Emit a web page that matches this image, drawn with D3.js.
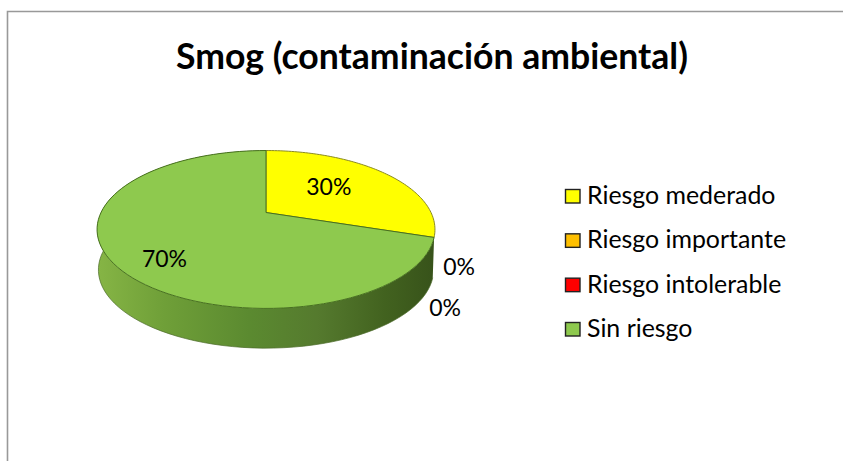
<!DOCTYPE html>
<html><head><meta charset="utf-8">
<style>html,body{margin:0;padding:0;background:#fff}svg{display:block}text{font-family:Lato,"Open Sans",sans-serif;fill:#000}</style>
<script src="https://cdnjs.cloudflare.com/ajax/libs/d3/7.8.5/d3.min.js"></script>
</head><body><svg id="c" width="843" height="461"></svg>
<script>
const title = "Smog (contaminación ambiental)";
const categories = ["Riesgo mederado","Riesgo importante","Riesgo intolerable","Sin riesgo"];
const values = [30,0,0,70];
const colors = ["#ffff00","#ffc000","#ff0000","#8ec94e"];

const svg = d3.select("#c");
const k=-0.215, A=165, B=75.3, apex=[266,212.5], depth=40.5, shrink=0.992;
function proj(th,r=1,off=0,s=1){
  const u=Math.sin(th)*r, v=-Math.cos(th)*r, d=1+k*v;
  return [apex[0]+A*s*u/d, apex[1]+off+B*s*v/d];
}
const pie = d3.pie().sort(null).value(d=>d);
const arcs = pie(values);
const line = d3.line();
const sample = (a,b,n=90)=>d3.range(n+1).map(i=>a+(b-a)*i/n);

// frame
svg.append("path").attr("d",line([[7.5,461],[7.5,11.5],[843,11.5]])).attr("fill","none").attr("stroke","#999").attr("stroke-width",1.6);

// side gradient
const defs=svg.append("defs");
const g=defs.append("linearGradient").attr("id","side").attr("gradientUnits","userSpaceOnUse").attr("x1",97).attr("x2",436).attr("y1",0).attr("y2",0);
[[0,"#86b545"],[0.2,"#6f9f38"],[0.45,"#5b8a30"],[0.65,"#557a2e"],[0.85,"#42621f"],[1,"#37521a"]].forEach(s=>g.append("stop").attr("offset",s[0]).attr("stop-color",s[1]));

const front = arcs.filter(a=>a.endAngle>a.startAngle && a.endAngle>Math.PI);
front.forEach(a=>{
  const ts=sample(a.startAngle,a.endAngle);
  const top=ts.map(t=>proj(t));
  const bot=ts.map(t=>proj(t,1,depth,shrink)).reverse();
  svg.append("path").attr("d",line(top.concat(bot))+"Z").attr("fill","url(#side)");
  svg.append("path").attr("d",line(bot)).attr("fill","none").attr("stroke","#4c6b2a").attr("stroke-width",1).attr("opacity",.7);
});

// top faces
arcs.filter(a=>a.endAngle>a.startAngle).forEach(a=>{
  const i=a.index;
  const pts=[apex].concat(sample(a.startAngle,a.endAngle).map(t=>proj(t)));
  svg.append("path").attr("d",line(pts)+"Z").attr("fill",colors[i]).attr("stroke",i==0?"#8a8a20":"#47701f").attr("stroke-width",1).attr("stroke-linejoin","round");
});

// data labels
const labelR=[0.5,1.17,1.17,0.7], labelDx=[0,-6,-20,1], labelDy=[3,33,74,21];
const fmt=d3.format(".0%"), total=d3.sum(values);
arcs.forEach(a=>{
  const p=proj((a.startAngle+a.endAngle)/2,labelR[a.index]);
  svg.append("text").attr("x",p[0]+labelDx[a.index]).attr("y",p[1]+labelDy[a.index])
   .attr("text-anchor","middle").attr("font-size",23).text(fmt(a.value/total));
});

// title
svg.append("text").attr("x",432).attr("y",69).attr("text-anchor","middle").attr("font-size",35.6).attr("font-weight",700).text(title);

// legend
const ly=d3.scalePoint().domain(categories).range([204,337]);
categories.forEach((c,i)=>{
  svg.append("rect").attr("x",565.5).attr("y",ly(c)-14.5).attr("width",14.5).attr("height",13.5).attr("fill",colors[i]).attr("stroke","#222").attr("stroke-width",1.4);
  svg.append("text").attr("x",587).attr("y",ly(c)).attr("font-size",24.9).text(c);
});
</script></body></html>
